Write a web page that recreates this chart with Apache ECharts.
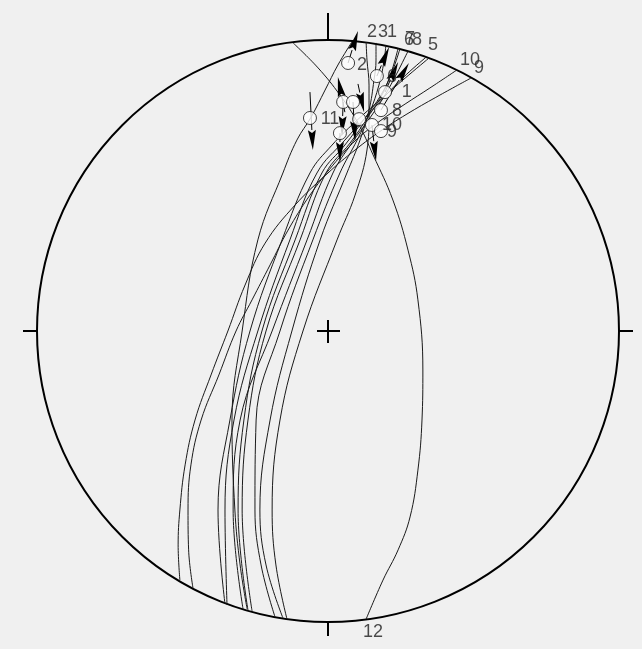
<!DOCTYPE html>
<html>
<head>
<meta charset="UTF-8">
<script src="https://cdn.jsdelivr.net/npm/echarts@6/dist/echarts.min.js"></script>
<style>
html,body{margin:0;padding:0;background:#f0f0f0;}
#chart{width:642px;height:649px;}
</style>
</head>
<body>
<div id="chart"></div>
<script>
// great circles: [x, y] in % of net radius (x east, y north)
var gc1 = [[19.9,98.3],[19.2,92.4],[17.5,84.5],[14.4,75.2],[10.0,65.6],[4.1,54.3],[-5.2,31.3],[-16.5,0],[-24.7,-30.6],[-25.1,-61.5],[-23.0,-80.4],[-18.2,-98.3]];
var gc2 = [[13.1,99.3],[13.4,93.1],[14.1,84.5],[14.1,74.2],[13.4,62.2],[9.3,46.7],[3.1,31.3],[-8.6,0],[-16.5,-30.6],[-19.2,-61.5],[-17.9,-80.4],[-14.1,-99.0]];
var gc3 = [[16.5,99.0],[16.5,93.1],[15.8,86.2],[14.1,75.9],[11.0,65.6],[6.5,54.3],[-2.7,31.3],[-12.4,0],[-19.9,-30.6],[-23.4,-61.5],[-21.3,-80.4],[-15.5,-98.6]];
var gc4 = [[34.7,93.8],[26.5,86.9],[17.9,79.4],[9.3,71.8],[1.4,63.9],[-6.2,54.3],[-15.8,31.3],[-26.8,0],[-33.7,-30.6],[-37.8,-61.5],[-35.4,-93.8]];
var gc5 = [[33.7,94.1],[27.1,88.3],[20.6,81.8],[13.7,74.2],[5.8,65.6],[-3.8,54.3],[-13.1,31.3],[-24.1,0],[-32.3,-30.6],[-35.4,-61.5],[-34.7,-94.1]];
var gc6 = [[24.7,96.9],[22.0,89.0],[18.2,81.1],[12.7,73.2],[5.8,63.9],[-2.1,54.3],[-11.3,31.3],[-22.7,0],[-28.9,-30.6],[-30.9,-61.5],[-27.5,-95.9]];
var gc7 = [[24.1,97.2],[22.0,89.7],[18.9,81.8],[13.7,73.5],[7.6,64.6],[-0.7,54.3],[-9.6,31.3],[-21.3,0],[-27.5,-30.6],[-29.5,-61.5],[-26.1,-96.2]];
var gc8 = [[27.5,96.2],[23.7,88.6],[19.6,81.1],[14.4,73.2],[8.2,64.6],[1.7,54.3],[-7.2,31.3],[-19.2,0],[-30.2,-30.6],[-32.6,-61.5],[-29.2,-95.5]];
var gc9 = [[49.1,86.9],[38.5,81.1],[28.2,75.2],[18.6,69.1],[9.3,62.2],[0,54.3],[-11.3,43.3],[-21.6,30.2],[-28.5,15.8],[-34.4,0],[-40.2,-15.1],[-45.7,-30.6],[-49.1,-46.0],[-50.9,-61.5],[-51.5,-73.5],[-50.9,-85.6]];
var gc10 = [[44.3,89.7],[35.0,83.5],[26.5,78.0],[17.9,72.2],[9.6,65.6],[1.7,57.0],[-6.2,46.7],[-13.7,34.7],[-19.9,22.7],[-26.1,10.7],[-31.6,0],[-37.5,-15.1],[-43.6,-30.6],[-47.1,-46.0],[-48.1,-61.5],[-47.9,-75.2],[-46.4,-88.3]];
var gc11 = [[8.2,99.3],[3.4,91.4],[-1.0,82.8],[-5.8,73.5],[-10.7,65.6],[-15.5,54.3],[-24.1,31.3],[-29.5,0],[-33.0,-30.6],[-32.0,-61.5],[-30.2,-80.4],[-27.8,-95.5]];
var gc12 = [[-12.0,99.0],[-3.4,90.4],[4.1,81.1],[10.3,71.5],[15.5,60.5],[22.3,45.0],[27.5,27.8],[30.9,10.7],[32.6,-13.4],[32.3,-30.6],[30.9,-47.8],[28.2,-63.9],[24.1,-75.2],[18.9,-85.6],[13.1,-99.0]];
var greatCircles = [gc1, gc2, gc3, gc4, gc5, gc6, gc7, gc8, gc9, gc10, gc11, gc12];

// striae (white circles)
var striae = [[6.9,92.1],[-6.2,73.2],[5.2,78.7],[8.6,78.7],[15.1,70.8],[4.1,68.0],[16.8,87.6],[19.6,82.1],[18.2,75.9],[18.2,68.7],[10.7,72.8]];
// slip arrows: [tailX, tailY, tipX, tipY]
var arrows = [
  [6.9,92.1,10.3,103.1],
  [-6.2,82.1,-5.2,62.2],
  [5.2,78.7,4.8,67.0],
  [8.6,78.7,9.3,65.3],
  [4.1,68.0,4.1,58.1],
  [15.1,70.8,16.5,58.4],
  [16.8,87.6,21.0,97.6],
  [19.6,82.1,24.1,92.4],
  [18.2,75.9,27.8,92.1],
  [5.8,75.2,3.4,87.3],
  [10.3,84.9,12.4,75.2]
];

// labels: [x, y, text]
var edgeLabels = [[15.1,102.7,'2'],[18.9,102.7,'3'],[22.0,102.7,'1'],[27.8,100.0,'6'],[28.2,100.3,'7'],[30.6,100.0,'8'],[36.1,98.3,'5'],[48.8,93.1,'10'],[51.9,90.4,'9'],[15.5,-103.4,'12']];
var pointLabels = [[11.7,91.4,'2'],[0.7,72.8,'11'],[22.0,87.3,'6'],[27.1,82.1,'1'],[23.7,75.6,'8'],[22.0,70.8,'10'],[22.0,68.4,'9']];

var chart = echarts.init(document.getElementById('chart'));

var series = [];
greatCircles.forEach(function (c) {
  series.push({
    type: 'line', data: c, smooth: 0.4, symbol: 'none', silent: true, z: 2,
    lineStyle: { color: '#1a1a1a', width: 1 }
  });
});
series.push({
  type: 'custom', coordinateSystem: 'cartesian2d', data: arrows, z: 3, silent: true,
  renderItem: function (params, api) {
    var a = api.coord([api.value(0), api.value(1)]);
    var b = api.coord([api.value(2), api.value(3)]);
    var dx = b[0] - a[0], dy = b[1] - a[1];
    var len = Math.sqrt(dx * dx + dy * dy);
    var ux = dx / len, uy = dy / len, L = 20, W = 4;
    var bx = b[0] - ux * L, by = b[1] - uy * L;
    return {
      type: 'group', children: [
        { type: 'line', shape: { x1: a[0], y1: a[1], x2: bx, y2: by }, style: { stroke: '#000', lineWidth: 1 } },
        { type: 'polygon', shape: { points: [[b[0], b[1]], [bx - uy * W, by + ux * W], [b[0] - ux * L * 0.85, b[1] - uy * L * 0.85], [bx + uy * W, by - ux * W]] }, style: { fill: '#000' } }
      ]
    };
  }
});
series.push({
  type: 'scatter', data: striae, symbol: 'circle', symbolSize: 13, z: 4, silent: true,
  itemStyle: { color: '#fff', borderColor: '#111', borderWidth: 1 }
});
[edgeLabels, pointLabels].forEach(function (arr) {
  series.push({
    type: 'scatter', data: arr, symbolSize: 1, z: 6, silent: true, clip: false,
    itemStyle: { color: 'rgba(0,0,0,0)' },
    label: {
      show: true, position: 'inside', color: '#1e1e1e', fontSize: 18,
      fontFamily: 'Liberation Sans, Arial, sans-serif',
      formatter: function (p) { return p.value[2]; }
    }
  });
});
series.push({ type: 'line', coordinateSystem: 'polar', data: [] });

chart.setOption({
  backgroundColor: '#f0f0f0',
  animation: false,
  grid: { left: 37, top: 40, width: 582, height: 582 },
  xAxis: { type: 'value', min: -100, max: 100, show: false },
  yAxis: { type: 'value', min: -100, max: 100, show: false },
  polar: { center: [328, 331], radius: 291 },
  angleAxis: {
    type: 'value', min: 0, max: 360, interval: 90, startAngle: 90,
    axisLine: { show: true, lineStyle: { color: '#000', width: 2 } },
    axisTick: { show: true, length: 14, lineStyle: { color: '#000', width: 2 } },
    axisLabel: { show: false }, splitLine: { show: false }
  },
  radiusAxis: {
    type: 'value', min: 0, max: 1, show: false,
    axisLine: { show: false }, axisTick: { show: false }, axisLabel: { show: false }, splitLine: { show: false }
  },
  graphic: [
    { type: 'line', shape: { x1: 328, y1: 13, x2: 328, y2: 40 }, style: { stroke: '#000', lineWidth: 2 } },
    { type: 'line', shape: { x1: 317, y1: 331, x2: 340, y2: 331 }, style: { stroke: '#000', lineWidth: 2 } },
    { type: 'line', shape: { x1: 328, y1: 320, x2: 328, y2: 343 }, style: { stroke: '#000', lineWidth: 2 } }
  ],
  series: series
});
</script>
</body>
</html>
